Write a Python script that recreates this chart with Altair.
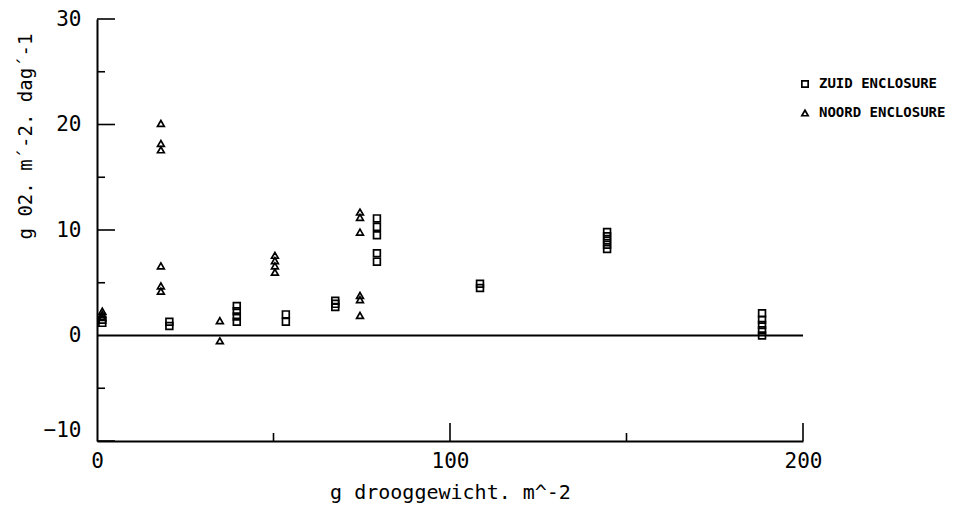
import altair as alt
import pandas as pd

# ---- data ----
zuid_x = [1.5, 1.5, 20.5, 20.5, 39.6, 39.6, 39.6, 39.6, 53.5, 53.5, 67.5, 67.5, 67.5,
          79.3, 79.3, 79.3, 79.3, 79.3, 108.5, 108.5,
          144.5, 144.5, 144.5, 144.5, 144.5, 188.4, 188.4, 188.4, 188.4, 188.4]
zuid_y = [1.5, 1.2, 1.3, 0.9, 2.8, 2.3, 1.8, 1.3, 2.0, 1.3, 2.7, 3.0, 3.3,
          11.1, 10.3, 9.5, 7.8, 7.0, 4.9, 4.5,
          9.8, 9.4, 9.0, 8.6, 8.2, 2.1, 1.5, 1.0, 0.5, 0.0]
noord_x = [1.5, 1.5, 1.5, 18.1, 18.1, 18.1, 18.1, 18.1, 18.1, 34.8, 34.8,
           50.4, 50.4, 50.4, 50.4, 74.5, 74.5, 74.5, 74.5, 74.5, 74.5]
noord_y = [2.3, 2.0, 1.7, 20.1, 18.2, 17.6, 6.6, 4.7, 4.2, 1.4, -0.5,
           7.6, 7.1, 6.6, 6.0, 11.7, 11.2, 9.8, 3.8, 3.4, 1.9]
series = ["ZUID ENCLOSURE", "NOORD ENCLOSURE"]

x_labels = [0, 100, 200]
y_labels = [-10, 0, 10, 20, 30]
x_major_ticks = [100, 200]
x_minor_ticks = [50, 150]
y_major_ticks = [-10, 10, 20, 30]
y_minor_ticks = [-5, 5, 15, 25]

FONT = "DejaVu Sans Mono"

df = pd.DataFrame({
    "x": zuid_x + noord_x,
    "y": zuid_y + noord_y,
    "serie": [series[0]] * len(zuid_x) + [series[1]] * len(noord_x),
})

xs = alt.Scale(domain=[0, 200], nice=False, zero=False)
ys = alt.Scale(domain=[-10, 30], nice=False, zero=False)

points = alt.Chart(df).mark_point(filled=False, color="black", strokeWidth=1.7, size=46, opacity=1).encode(
    x=alt.X("x:Q", scale=xs, axis=alt.Axis(
        values=x_labels, ticks=False, grid=False, domainColor="black", domainWidth=2,
        labelFont=FONT, labelFontSize=21, labelColor="black", labelPadding=9,
        labelFlush=False,
        title="g drooggewicht. m^-2", titleFont=FONT, titleFontSize=20,
        titleFontWeight="normal", titleColor="black",
        titleX=353, titleY=57, titleAlign="center", titleBaseline="alphabetic")),
    y=alt.Y("y:Q", scale=ys, axis=alt.Axis(
        values=y_labels, ticks=False, grid=False, domainColor="black", domainWidth=2,
        labelFont=FONT, labelFontSize=21, labelColor="black", labelPadding=16,
        labelFlush=False,
        labelOffset={"condition": {"test": "datum.value == -10", "value": -11}, "value": 0},
        title="g 02. m´-2. dag´-1", titleFont=FONT, titleFontSize=19,
        titleFontWeight="normal", titleColor="black", titleAngle=270,
        titleX=-72, titleY=117, titleAlign="center", titleBaseline="middle")),
    shape=alt.Shape("serie:N", scale=alt.Scale(domain=series, range=["square", "triangle-up"]),
                    legend=alt.Legend(title=None, orient="none", legendX=701, legendY=58,
                                      labelFont=FONT, labelFontSize=14, labelFontWeight="bold",
                                      labelColor="black",
                                      rowPadding=15, symbolSize=40, symbolStrokeWidth=1.7,
                                      symbolStrokeColor="black", symbolFillColor="white",
                                      labelOffset=7)),
)

zero_df = pd.DataFrame({"x0": [0], "x1": [200], "y0": [0]})
zero_line = alt.Chart(zero_df).mark_rule(color="black", strokeWidth=1.8).encode(
    x=alt.X("x0:Q", scale=xs), x2="x1:Q", y=alt.Y("y0:Q", scale=ys))

def yticks(vals, length):
    return alt.Chart(pd.DataFrame({"v": vals})).mark_rule(color="black", strokeWidth=1.6).encode(
        y=alt.Y("v:Q", scale=ys), x=alt.value(0), x2=alt.value(length))

def xticks(vals, length):
    return alt.Chart(pd.DataFrame({"v": vals})).mark_rule(color="black", strokeWidth=1.6).encode(
        x=alt.X("v:Q", scale=xs), y=alt.value(422), y2=alt.value(422 - length))

chart = alt.layer(
    zero_line,
    yticks(y_major_ticks, 18), yticks(y_minor_ticks, 8),
    xticks(x_major_ticks, 18), xticks(x_minor_ticks, 8),
    points,
).properties(
    width=706, height=422,
    autosize=alt.AutoSizeParams(type="none"),
    padding={"left": 97, "top": 19, "right": 157, "bottom": 68},
    background="white",
).configure_view(strokeWidth=0)

chart.save("out.html", embed_options={"renderer": "svg", "actions": False})
